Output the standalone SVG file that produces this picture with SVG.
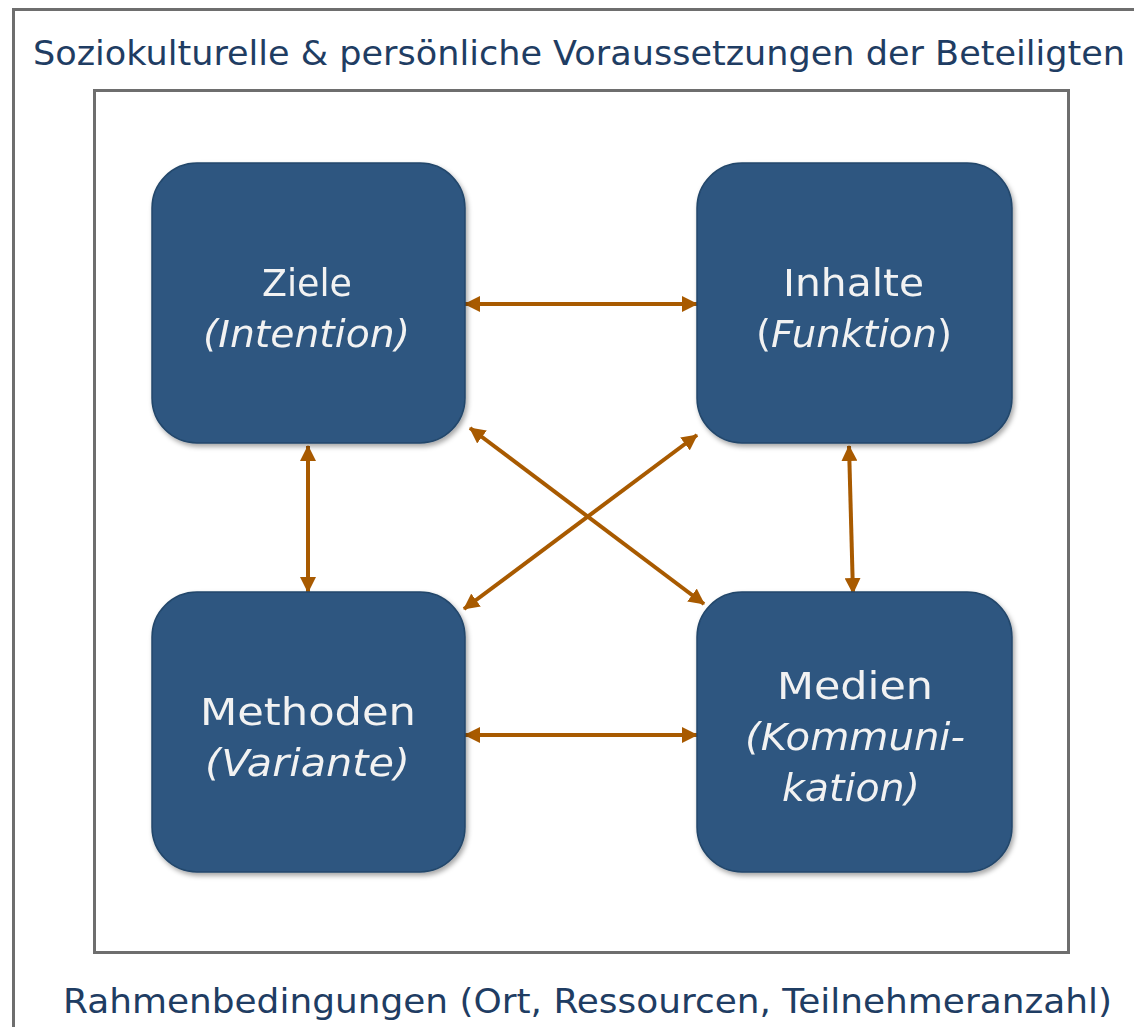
<svg xmlns="http://www.w3.org/2000/svg" width="1134" height="1027" viewBox="0 0 1134 1027">
<style>
.frame{fill:none;stroke:#6e6e6e;stroke-width:3}
.node rect{fill:#2d5680;stroke:#24476b;stroke-width:1.5}
.lbl{font-family:"DejaVu Sans","Liberation Sans",sans-serif;font-size:37px;fill:#f2f2f2;text-anchor:middle}
.it{font-style:italic}
.cap{font-family:"DejaVu Sans","Liberation Sans",sans-serif;fill:#1f3d63}
.conn line{stroke:#a85a00;stroke-width:4;marker-start:url(#ah);marker-end:url(#ah)}
</style>
<defs>
<marker id="ah" viewBox="0 0 16 16" refX="15" refY="8" markerWidth="16" markerHeight="16" markerUnits="userSpaceOnUse" orient="auto-start-reverse">
<path d="M0,0 L16,8 L0,16 Z" fill="#a85a00"/>
</marker>
<filter id="sh" x="-10%" y="-10%" width="125%" height="125%">
<feDropShadow dx="2" dy="3" stdDeviation="2.5" flood-color="#000" flood-opacity="0.35"/>
</filter>
</defs>
<rect width="1134" height="1027" fill="#ffffff"/>
<path class="frame" d="M13.5,1030 V9.5 H1140"/>
<text class="cap" x="33" y="65" font-size="33" textLength="1092" lengthAdjust="spacingAndGlyphs">Soziokulturelle &amp; persönliche Voraussetzungen der Beteiligten</text>
<rect class="frame" x="94.5" y="90.5" width="974" height="862"/>
<text class="cap" x="63" y="1013" font-size="33" textLength="1049" lengthAdjust="spacingAndGlyphs">Rahmenbedingungen (Ort, Ressourcen, Teilnehmeranzahl)</text>
<g class="conn">
<line x1="465" y1="304" x2="697" y2="304"/>
<line x1="465" y1="735" x2="697" y2="735"/>
<line x1="308" y1="446" x2="308" y2="592"/>
<line x1="849" y1="446" x2="853" y2="593"/>
<line x1="470" y1="428" x2="704" y2="604"/>
<line x1="697" y1="435" x2="464" y2="609"/>
</g>
<g id="ziele" class="node" filter="url(#sh)">
<rect x="152" y="163" width="313" height="280" rx="45"/>
<text class="lbl" x="307" y="296" textLength="90" lengthAdjust="spacingAndGlyphs">Ziele</text>
<text class="lbl it" x="306.5" y="347" textLength="207" lengthAdjust="spacingAndGlyphs">(Intention)</text>
</g>
<g id="inhalte" class="node" filter="url(#sh)">
<rect x="697" y="163" width="315" height="280" rx="45"/>
<text class="lbl" x="853.5" y="296" textLength="141" lengthAdjust="spacingAndGlyphs">Inhalte</text>
<text class="lbl" x="854" y="347" textLength="196" lengthAdjust="spacingAndGlyphs">(<tspan class="it">Funktion</tspan>)</text>
</g>
<g id="methoden" class="node" filter="url(#sh)">
<rect x="152" y="592" width="313" height="280" rx="45"/>
<text class="lbl" x="308" y="725" textLength="216" lengthAdjust="spacingAndGlyphs">Methoden</text>
<text class="lbl it" x="307.5" y="776" textLength="205" lengthAdjust="spacingAndGlyphs">(Variante)</text>
</g>
<g id="medien" class="node" filter="url(#sh)">
<rect x="697" y="592" width="315" height="280" rx="45"/>
<text class="lbl" x="855" y="699" textLength="156" lengthAdjust="spacingAndGlyphs">Medien</text>
<text class="lbl it" x="855" y="750" textLength="220" lengthAdjust="spacingAndGlyphs">(Kommuni-</text>
<text class="lbl it" x="851" y="801" textLength="138" lengthAdjust="spacingAndGlyphs">kation)</text>
</g>
</svg>
